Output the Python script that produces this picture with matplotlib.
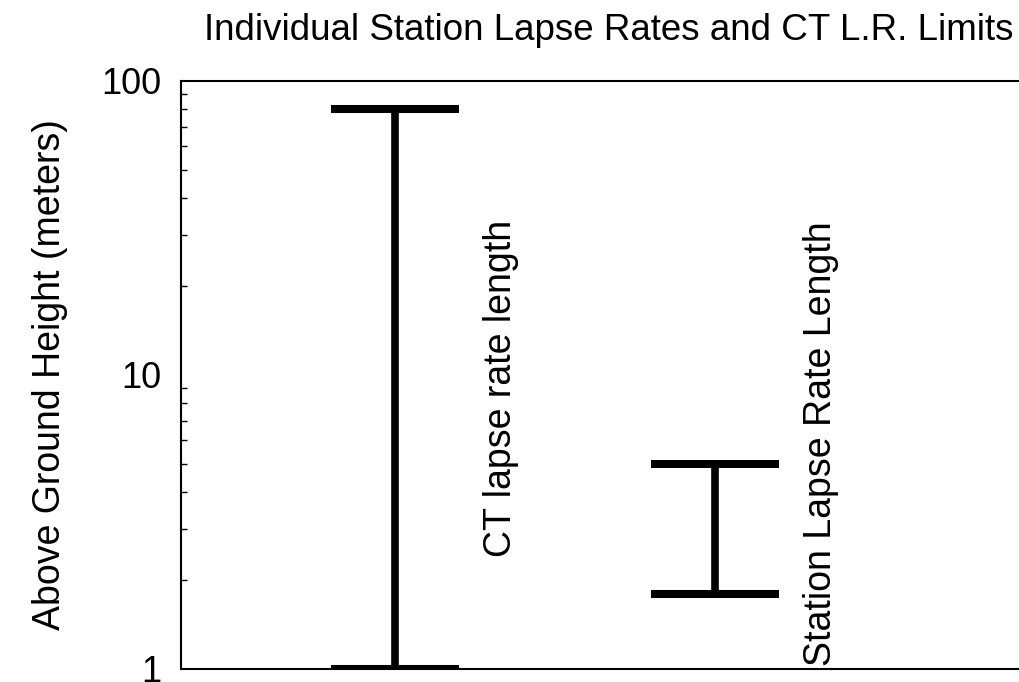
#Station lapse rate lengths vs CT lapse rate limits (log height axis)

import numpy as np
import matplotlib.pyplot as plt

plt.rcParams['font.family'] = ['Liberation Sans', 'DejaVu Sans']

#Data
positions = [1, 2]
lower = np.array([1.0, 1.8])        #bottom of each range (m)
upper = np.array([80.0, 5.0])       #top of each range (m)
labels = ['CT lapse rate length', 'Station Lapse Rate Length']
label_y = [9.0, 5.85]

fig = plt.figure(figsize=(10.2, 6.82), dpi=100)
ax = fig.add_axes([181/1020, 13/682, 849/1020, 588/682])

ax.errorbar(positions, lower, yerr=[np.zeros(2), upper-lower], fmt='none',
            ecolor='black', elinewidth=5.5, capsize=46, capthick=5.8)

for p, lab, ly in zip(positions, labels, label_y):
    ax.text(p+0.33, ly, lab, rotation=90, ha='center', va='center', fontsize=27)

ax.set_yscale('log')
ax.set_ylim(1, 100)
ax.set_xlim(0.331, 2.984)
ax.set_xticks([])
ax.set_yticks([1, 10, 100])
ax.set_yticklabels(['1', '10', '100'])
ax.tick_params(axis='y', which='both', direction='in', labelsize=26, pad=14)
ax.tick_params(axis='y', which='major', length=0)
ax.tick_params(axis='y', which='minor', length=4, width=1)
ax.yaxis.set_minor_formatter(plt.NullFormatter())
for s in ax.spines.values():
    s.set_linewidth(1.5)
ax.set_ylabel('Above Ground Height (meters)', fontsize=27, labelpad=24)

fig.text(0.597, 0.955, 'Individual Station Lapse Rates and CT L.R. Limits',
         ha='center', va='center', fontsize=26.5)

fig.savefig('out.png', dpi=100)
